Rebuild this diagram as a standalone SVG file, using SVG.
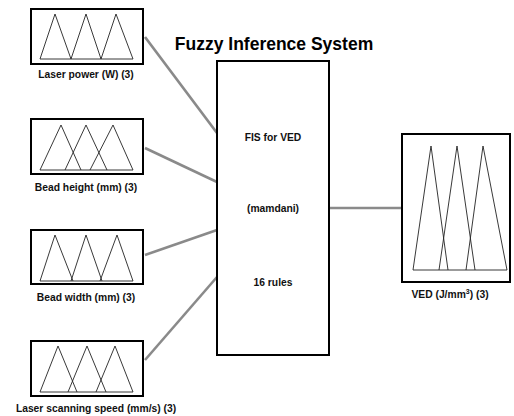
<svg xmlns="http://www.w3.org/2000/svg" width="514" height="416" viewBox="0 0 514 416">
<style>
.box{fill:#fff;stroke:#000;stroke-width:2}
.mf{fill:none;stroke:#222;stroke-width:0.9}
.conn{stroke:#8a8a8a;stroke-width:2.6;fill:none}
.lbl{font-family:"Liberation Sans",Arial,sans-serif;font-size:10.3px;font-weight:bold;fill:#111;text-anchor:middle}
.title{font-family:"Liberation Sans",Arial,sans-serif;font-size:17.5px;font-weight:bold;fill:#000;text-anchor:middle}
</style>
<rect width="514" height="416" fill="#fff"/>
<g id="connectors">
<line class="conn" x1="145" y1="37" x2="217" y2="133"/>
<line class="conn" x1="145" y1="148" x2="217" y2="182"/>
<line class="conn" x1="145" y1="255" x2="217" y2="230"/>
<line class="conn" x1="145" y1="360" x2="217" y2="277"/>
<line class="conn" x1="329" y1="208" x2="402" y2="208"/>
</g>
<text class="title" x="274" y="50">Fuzzy Inference System</text>
<g id="laser-power">
<rect class="box" x="31" y="9" width="112" height="55"/>
<path class="mf" d="M40,59 L133,59 M40,59 L55,14 L71,59 L86,14 L101,59 L116,14 L133,59"/>
<text class="lbl" x="86" y="78">Laser power (W) (3)</text>
</g>
<g id="bead-height">
<rect class="box" x="31" y="119" width="112" height="55"/>
<path class="mf" d="M40,170 L133,170 M40,170 L61,125 L81,170 M65,170 L86,125 L107,170 M90,170 L113,125 L133,170"/>
<text class="lbl" x="86" y="191">Bead height (mm) (3)</text>
</g>
<g id="bead-width">
<rect class="box" x="31" y="230" width="112" height="54"/>
<path class="mf" d="M40,281 L133,281 M40,281 L55,235 L73,281 M71,281 L86,235 L102,281 M100,281 L117,235 L133,281"/>
<text class="lbl" x="86" y="301">Bead width (mm) (3)</text>
</g>
<g id="scan-speed">
<rect class="box" x="31" y="341" width="112" height="55"/>
<path class="mf" d="M40,392 L133,392 M40,392 L58,346 L77,392 M68,392 L87,346 L106,392 M96,392 L115,346 L133,392"/>
<text class="lbl" x="96" y="412">Laser scanning speed (mm/s) (3)</text>
</g>
<g id="fis">
<rect class="box" x="217" y="61" width="112" height="294"/>
<text class="lbl" x="273" y="141">FIS for VED</text>
<text class="lbl" x="273" y="212">(mamdani)</text>
<text class="lbl" x="273" y="286">16 rules</text>
</g>
<g id="ved">
<rect class="box" x="402" y="134" width="108" height="148"/>
<path class="mf" d="M413,270 L507,270 M413,270 L431,146 L448,270 M439,270 L457,146 L475,270 M466,270 L483,146 L507,270"/>
<text class="lbl" x="450" y="298">VED (J/mm<tspan font-size="7" dy="-4">3</tspan><tspan dy="4">) (3)</tspan></text>
</g>
</svg>
